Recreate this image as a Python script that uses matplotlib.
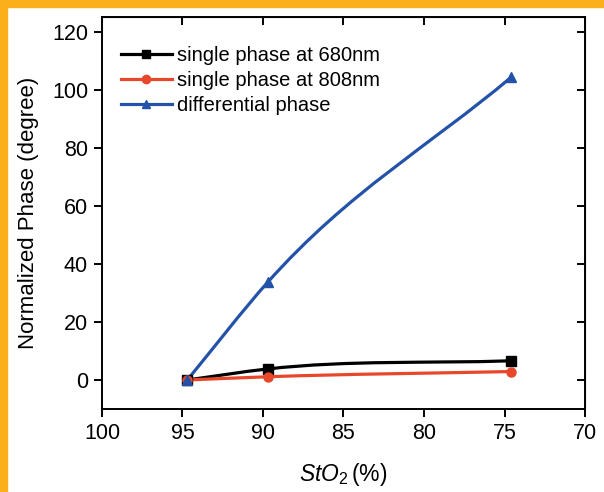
import matplotlib
matplotlib.use("Agg")
import matplotlib.pyplot as plt
import numpy as np
from matplotlib.path import Path
from matplotlib.patches import PathPatch, Rectangle
from matplotlib.lines import Line2D

plt.rcParams['font.family'] = ['Liberation Sans', 'DejaVu Sans']
plt.rcParams['mathtext.fontset'] = 'custom'
plt.rcParams['mathtext.it'] = 'Liberation Sans:italic'
plt.rcParams['mathtext.rm'] = 'Liberation Sans'

# data
sto2 = [94.7, 89.7, 74.6]
phase_680 = [0.0, 3.8, 6.6]
phase_808 = [0.0, 1.1, 2.9]
phase_diff = [0.0, 33.7, 104.2]

labels = ["single phase at 680nm", "single phase at 808nm", "differential phase"]
colors = ["black", "#e8472c", "#2352a8"]
markers = ["s", "o", "^"]
xticks = [100, 95, 90, 85, 80, 75, 70]
yticks = [0, 20, 40, 60, 80, 100, 120]


def smooth_path(xs, ys):
    # cubic hermite curve through the points, drawn as bezier path
    xs = np.asarray(xs, float)
    ys = np.asarray(ys, float)
    h = np.diff(xs)
    d = np.diff(ys) / h
    m = np.zeros_like(xs)
    for i in range(1, len(xs) - 1):
        m[i] = (d[i - 1] * h[i] + d[i] * h[i - 1]) / (h[i - 1] + h[i])
    m[0] = d[0]
    m[-1] = d[-1]
    verts = [(xs[0], ys[0])]
    codes = [Path.MOVETO]
    for i in range(len(xs) - 1):
        verts.append((xs[i] + h[i] / 3, ys[i] + m[i] * h[i] / 3))
        verts.append((xs[i + 1] - h[i] / 3, ys[i + 1] - m[i + 1] * h[i] / 3))
        verts.append((xs[i + 1], ys[i + 1]))
        codes += [Path.CURVE4] * 3
    return Path(verts, codes)


fig = plt.figure(figsize=(6.04, 4.92), dpi=100)
ax = fig.add_axes([102 / 604, 1 - 409 / 492, 483 / 604, 392 / 492])

series = [phase_680, phase_808, phase_diff]
handles = []
for ys, c, mk, lab in zip(series, colors, markers, labels):
    ax.add_patch(PathPatch(smooth_path(sto2, ys), fill=False, edgecolor=c, lw=2.3, zorder=3))
    ax.plot(sto2, ys, ls='none', marker=mk, color=c, ms=6.5, zorder=4)
    handles.append(Line2D([], [], color=c, lw=2.3, marker=mk, ms=6))

ax.set_xlim(100, 70)
ax.set_ylim(-10, 125)
ax.set_xticks(xticks)
ax.set_yticks(yticks)
for s in ax.spines.values():
    s.set_linewidth(1.4)
ax.tick_params(direction='out', length=5.5, width=1.4, labelsize=15.5, pad=4.5)

top = ax.secondary_xaxis('top')
top.set_xticks(xticks)
top.tick_params(direction='in', length=5.5, width=1.4, labeltop=False)
right = ax.secondary_yaxis('right')
right.set_yticks(yticks)
right.tick_params(direction='in', length=5.5, width=1.4, labelright=False)

ax.set_ylabel("Normalized Phase (degree)", fontsize=16, labelpad=9)
ax.set_xlabel(r"$\mathit{StO}_{\mathit{2}}\,$(%)", fontsize=16.5, labelpad=12)

ax.legend(handles, labels, loc='upper left', bbox_to_anchor=(0.04, 0.925), frameon=False,
          fontsize=14.5, handlelength=2.5, handletextpad=0.25, labelspacing=0.28,
          borderaxespad=0, borderpad=0)

# orange frame on top and left
fig.patches.append(Rectangle((0, 1 - 7 / 492), 1, 7 / 492, transform=fig.transFigure,
                             color='#fbb01b', zorder=10))
fig.patches.append(Rectangle((0, 0), 7 / 604, 1, transform=fig.transFigure,
                             color='#fbb01b', zorder=10))

fig.savefig("out.png", dpi=100)
